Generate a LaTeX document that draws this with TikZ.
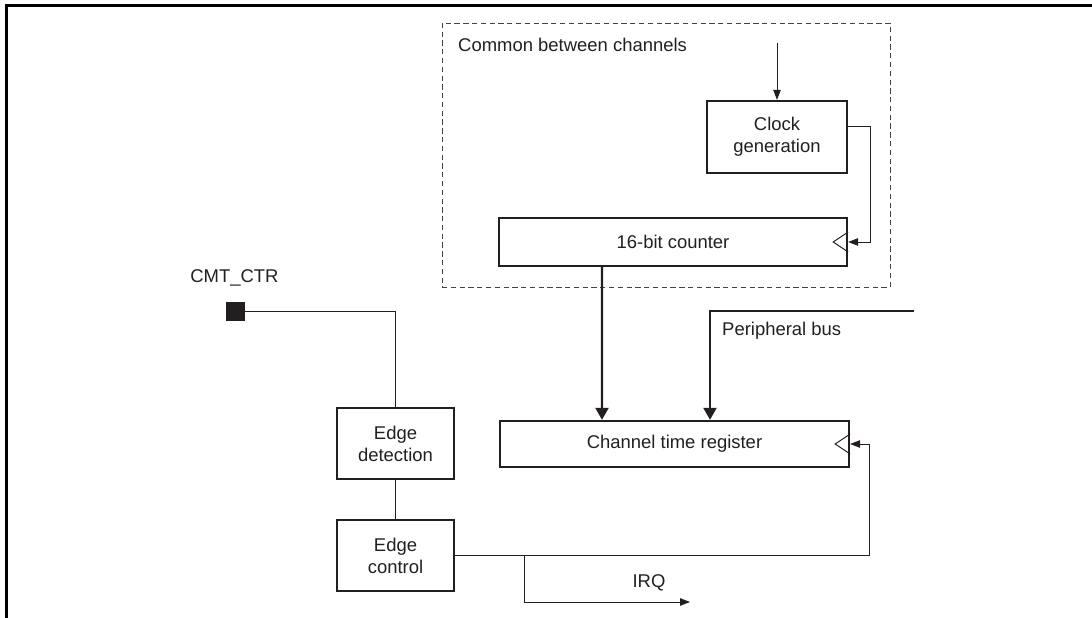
\documentclass[tikz,border=0pt]{standalone}
\usepackage{fontspec}
\setmainfont{Liberation Sans}
\usetikzlibrary{arrows.meta}
\definecolor{ink}{HTML}{231F20}
\tikzset{%
	txt/.style = { text=ink, font=\fontsize{10.5}{12.6}\selectfont },
	block/.style = { draw=ink, line width=1.3pt, align=center, inner sep=0pt },
	sig/.style = { draw=ink, line width=0.55pt },
	bus/.style = { draw=ink, line width=1.3pt },
	sigarrow/.style = { sig, -{Triangle[length=2mm,width=1.5mm]} },
	busarrow/.style = { bus, -{Triangle[length=2.4mm,width=2.6mm]} },
	padsq/.style = { fill=ink, minimum size=0.38cm, inner sep=0pt },
	region/.style = { draw=ink!85, line width=0.45pt, dash pattern=on 3pt off 2pt, inner sep=0pt }
}
% clock input mark on the right side of a register
\newcommand{\clkmark}[1]{\draw[sig] ([yshift=2mm]#1.east) -- ++(-0.3,-0.2) -- ++(0.3,-0.2);}

\begin{document}
\begin{tikzpicture}[every node/.style={txt}]
	\useasboundingbox (0,0) rectangle (21.84,12.36);
	% frame
	\draw[black, line width=1.6pt] (0.13,0) -- (0.13,12.25) -- (21.84,12.25);

	% common between channels
	\node[region, minimum width=8.96cm, minimum height=5.28cm] (common) at (13.32,9.26) {};
	\node[anchor=west] (commonlbl) at (9.04,11.46) {Common between channels};
	\node[block, minimum width=2.8cm, minimum height=1.44cm] (clk) at (15.54,9.62) {Clock\\generation};
	\node[block, minimum width=6.96cm, minimum height=0.96cm] (cnt) at (13.46,7.52) {16-bit counter};
	\coordinate (clkin) at (15.54,11.5);
	\draw[sigarrow] (clkin) -- (clk.north);
	\draw[sigarrow] ([yshift=2.2mm]clk.east) -- ++(0.44,0) |- (cnt.east);
	\clkmark{cnt}

	% channel part
	\node[block, minimum width=6.98cm, minimum height=0.92cm] (reg) at (13.49,3.48) {Channel time register};
	\clkmark{reg}
	\draw[busarrow] ([xshift=-14.2mm]cnt.south) -- ([xshift=-14.5mm]reg.north);
	\coordinate (busin) at (18.28,6.14);
	\draw[busarrow] (busin) -| ([xshift=7.1mm]reg.north);
	\node[anchor=west] (buslbl) at (14.32,5.74) {Peripheral bus};

	% input pin and edge logic
	\node[padsq] (pad) at (4.71,6.13) {};
	\node (padlbl) at (4.69,6.8) {CMT\_CTR};
	\node[block, minimum width=2.34cm, minimum height=1.42cm] (edet) at (7.91,3.49) {Edge\\detection};
	\node[block, minimum width=2.34cm, minimum height=1.42cm] (ectl) at (7.91,1.25) {Edge\\control};
	\draw[sig] (pad.east) -| (edet.north);
	\draw[sig] (edet) -- (ectl);
	\draw[sigarrow] (ectl.east) -| ([xshift=3.9mm]reg.east) -- (reg.east);

	% interrupt output
	\coordinate (tap) at (10.48,1.25);
	\coordinate (irq) at (13.8,0.32);
	\draw[sigarrow] (tap) |- (irq);
	\node (irqlbl) at (12.98,0.7) {IRQ};
\end{tikzpicture}
\end{document}
